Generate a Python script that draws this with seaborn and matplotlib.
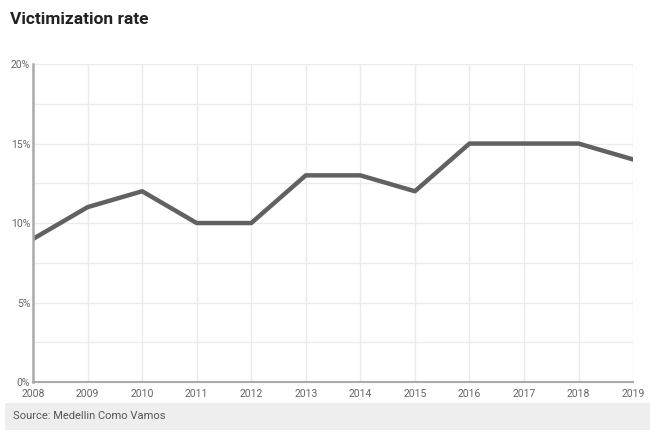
import matplotlib
matplotlib.use("Agg")
import matplotlib.pyplot as plt
import seaborn as sns
import pandas as pd
from matplotlib.ticker import MultipleLocator, FuncFormatter
from matplotlib.patches import Rectangle

# Data
years = [2008, 2009, 2010, 2011, 2012, 2013, 2014, 2015, 2016, 2017, 2018, 2019]
rate = [9, 11, 12, 10, 10, 13, 13, 12, 15, 15, 15, 14]

df = pd.DataFrame({"Year": years, "Rate": rate})

sns.set_theme(style="white")
plt.rcParams["font.family"] = ["Roboto", "DejaVu Sans"]

fig = plt.figure(figsize=(6.5, 4.33), dpi=100)
ax = fig.add_axes([0.0508, 0.1178, 0.9232, 0.7342])

sns.lineplot(data=df, x="Year", y="Rate", ax=ax, color="#616161", linewidth=3.2)

ax.set_xlim(2008, 2019)
ax.set_ylim(0, 20)
ax.set_xticks(years)
ax.yaxis.set_major_locator(MultipleLocator(5))
ax.yaxis.set_minor_locator(MultipleLocator(2.5))
ax.yaxis.set_major_formatter(FuncFormatter(lambda v, p: f"{int(v)}%"))
ax.grid(True, which="both", color="#ebebeb", linewidth=1)
ax.set_axisbelow(True)
ax.set_xlabel("")
ax.set_ylabel("")
ax.tick_params(axis="both", which="both", length=0, labelsize=7.5, colors="#666666")
ax.tick_params(axis="y", pad=2)
ax.tick_params(axis="x", pad=5)

for s in ["top", "right"]:
    ax.spines[s].set_visible(False)
ax.spines["left"].set_color("#aaaaaa")
ax.spines["left"].set_linewidth(1.8)
ax.spines["bottom"].set_color("#aaaaaa")
ax.spines["bottom"].set_linewidth(1.5)

fig.text(0.015, 0.955, "Victimization rate", fontsize=12.5, fontweight="bold",
         color="#222222", va="center", ha="left")

fig.patches.append(Rectangle((5 / 650, 3 / 433), 645 / 650, 27 / 433,
                             transform=fig.transFigure, facecolor="#eeeeee",
                             edgecolor="none", zorder=0))
fig.text(13 / 650, 1 - 416 / 433, "Source: Medellin Como Vamos", fontsize=8,
         color="#555555", va="center", ha="left")

fig.savefig("out.png", dpi=100)
